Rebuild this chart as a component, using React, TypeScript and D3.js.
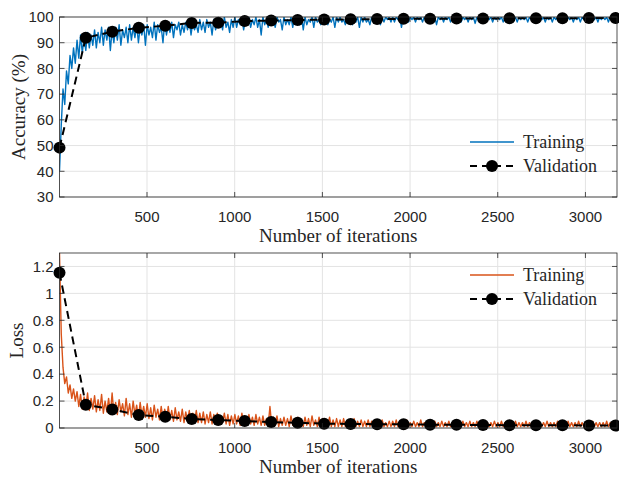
import * as d3 from "d3";

// iterations of the validation checks
const valIter = [1, 151, 302, 453, 604, 755, 906, 1057, 1208, 1359, 1510, 1661, 1812, 1963, 2114, 2265, 2416, 2567, 2718, 2869, 3020, 3171];

const valAcc = [49.2, 91.9, 94.3, 95.8, 96.6, 97.7, 97.8, 98.4, 98.6, 98.8, 99.0, 99.1, 99.2, 99.3, 99.3, 99.4, 99.4, 99.5, 99.5, 99.5, 99.6, 99.6];
const valLoss = [1.153, 0.173, 0.138, 0.096, 0.084, 0.067, 0.059, 0.052, 0.044, 0.039, 0.032, 0.03, 0.028, 0.027, 0.025, 0.024, 0.022, 0.021, 0.02, 0.02, 0.019, 0.018];

// training readings, one every 10 iterations starting at iteration 1
const trainStep = 10;
const trainAcc = [
  40, 58, 72, 66, 79, 74, 85, 80, 88, 82,
  91, 84, 93, 86, 92, 87, 94, 88, 93, 89,
  95, 88, 94, 90, 96, 89, 95, 91, 96, 87,
  95, 90, 96, 91, 97, 89, 95, 92, 96, 90,
  97, 91, 96, 92, 97, 90, 96, 93, 97, 89,
  97, 93, 96, 92, 98, 91, 97, 94, 96, 90,
  98, 93, 97, 94, 98, 92, 97, 95, 98, 93,
  97, 94, 98, 95, 99, 93, 98, 95, 97, 94,
  99, 95, 98, 94, 99, 96, 98, 93, 99, 95,
  98, 96, 99, 95, 100, 96, 98, 94, 99, 96,
  100, 96, 99, 97, 100, 95, 99, 97, 100, 96,
  99, 97, 100, 96, 99, 93, 100, 97, 99, 96,
  100, 97, 99, 96, 100, 98, 99, 95, 100, 97,
  99, 97, 100, 96, 100, 98, 99, 97, 100, 95,
  100, 97, 99, 98, 100, 96, 100, 98, 99, 97,
  100, 98, 100, 97, 99, 98, 100, 96, 100, 98,
  100, 98, 99, 97, 100, 98, 100, 97, 99, 98,
  100, 96, 100, 98, 100, 98, 99, 97, 100, 98,
  100, 99, 100, 97, 100, 98, 100, 99, 100, 98,
  100, 98, 100, 99, 100, 96, 100, 99, 100, 98,
  100, 99, 100, 98, 100, 99, 100, 98, 100, 99,
  100, 98, 100, 99, 100, 97, 100, 99, 100, 98,
  100, 99, 100, 98, 100, 99, 100, 99, 100, 98,
  100, 99, 100, 98, 100, 99, 100, 97.5, 100, 99,
  100, 98, 100, 99, 100, 99, 100, 98, 100, 99,
  100, 99, 100, 98, 100, 99, 100, 98, 100, 99,
  100, 98, 100, 99, 100, 99, 100, 98, 100, 99,
  100, 99, 100, 98, 100, 99, 100, 98, 100, 99,
  100, 98, 100, 99, 100, 98, 100, 99, 100, 99,
  100, 99, 100, 98, 100, 99, 100, 98, 100, 99,
  100, 98, 100, 99, 100, 99, 100, 98, 100, 99,
  100, 99, 100, 98, 100, 99, 100, 99, 100,
];
const trainLoss = [
  1.3, 0.7, 0.45, 0.33, 0.38, 0.26, 0.32, 0.22, 0.29, 0.2,
  0.27, 0.16, 0.25, 0.14, 0.23, 0.15, 0.26, 0.13, 0.22, 0.14,
  0.24, 0.12, 0.21, 0.13, 0.25, 0.11, 0.2, 0.12, 0.22, 0.1,
  0.26, 0.11, 0.19, 0.1, 0.21, 0.12, 0.18, 0.09, 0.22, 0.1,
  0.18, 0.08, 0.2, 0.1, 0.17, 0.07, 0.19, 0.09, 0.16, 0.08,
  0.18, 0.07, 0.15, 0.06, 0.17, 0.08, 0.14, 0.06, 0.16, 0.07,
  0.14, 0.05, 0.16, 0.06, 0.13, 0.05, 0.15, 0.06, 0.12, 0.05,
  0.14, 0.04, 0.12, 0.05, 0.13, 0.04, 0.11, 0.05, 0.13, 0.04,
  0.11, 0.04, 0.12, 0.03, 0.1, 0.04, 0.12, 0.03, 0.1, 0.04,
  0.11, 0.03, 0.09, 0.04, 0.11, 0.03, 0.1, 0.02, 0.09, 0.03,
  0.1, 0.03, 0.09, 0.02, 0.11, 0.03, 0.08, 0.02, 0.1, 0.03,
  0.08, 0.02, 0.1, 0.03, 0.08, 0.02, 0.09, 0.02, 0.07, 0.02,
  0.16, 0.02, 0.08, 0.02, 0.09, 0.01, 0.07, 0.02, 0.08, 0.02,
  0.07, 0.01, 0.09, 0.02, 0.07, 0.01, 0.08, 0.02, 0.06, 0.01,
  0.08, 0.02, 0.07, 0.01, 0.09, 0.02, 0.06, 0.01, 0.08, 0.01,
  0.07, 0.01, 0.06, 0.02, 0.08, 0.01, 0.06, 0.01, 0.07, 0.01,
  0.06, 0.01, 0.07, 0.01, 0.05, 0.02, 0.06, 0.01, 0.07, 0.01,
  0.05, 0.01, 0.06, 0.01, 0.05, 0.01, 0.06, 0.01, 0.05, 0.01,
  0.06, 0.01, 0.05, 0.01, 0.06, 0.01, 0.04, 0.01, 0.05, 0.01,
  0.05, 0.01, 0.06, 0.01, 0.04, 0.01, 0.05, 0.01, 0.06, 0.01,
  0.04, 0.01, 0.05, 0.01, 0.04, 0.01, 0.06, 0.01, 0.04, 0.01,
  0.05, 0.01, 0.04, 0.01, 0.05, 0.01, 0.04, 0.01, 0.05, 0.01,
  0.04, 0.01, 0.05, 0.01, 0.04, 0.01, 0.05, 0.01, 0.04, 0.01,
  0.05, 0.01, 0.04, 0.01, 0.05, 0.01, 0.04, 0.01, 0.05, 0.01,
  0.04, 0.01, 0.05, 0.01, 0.04, 0.01, 0.04, 0.01, 0.05, 0.01,
  0.04, 0.01, 0.05, 0.01, 0.04, 0.01, 0.05, 0.01, 0.04, 0.01,
  0.05, 0.01, 0.04, 0.01, 0.04, 0.01, 0.05, 0.01, 0.04, 0.01,
  0.04, 0.01, 0.05, 0.01, 0.04, 0.01, 0.04, 0.01, 0.05, 0.01,
  0.04, 0.01, 0.04, 0.01, 0.05, 0.01, 0.04, 0.01, 0.04, 0.01,
  0.05, 0.01, 0.04, 0.01, 0.04, 0.01, 0.05, 0.01, 0.04, 0.01,
  0.04, 0.01, 0.04, 0.01, 0.05, 0.01, 0.04, 0.01, 0.04, 0.01,
  0.04, 0.01, 0.05, 0.01, 0.04, 0.01, 0.04, 0.01, 0.04,
];

const xTicks = [500, 1000, 1500, 2000, 2500, 3000];
const accTicks = [30, 40, 50, 60, 70, 80, 90, 100];
const lossTicks = [0, 0.2, 0.4, 0.6, 0.8, 1, 1.2];
const lossTickLabels = ["0", "0.2", "0.4", "0.6", "0.8", "1", "1.2"];

const AXIS = "#262626";
const GRID = "#e3e3e3";
const SANS = "'Liberation Sans', Arial, sans-serif";
const SERIF = "'Liberation Serif', 'Times New Roman', serif";

type PanelProps = {
  id: string;
  top: number;
  bottom: number;
  yDomain: [number, number];
  yTicks: number[];
  yLabels: string[];
  yTitle: string;
  titleX: number;
  train: number[];
  val: number[];
  color: string;
  legendY: number;
};

function Panel(p: PanelProps) {
  const left = 59.5;
  const right = 617;
  const x = d3.scaleLinear().domain([1, 3180]).range([left, right]);
  const y = d3.scaleLinear().domain(p.yDomain).range([p.bottom, p.top]);

  const trainLine = d3
    .line<number>()
    .x((_, i) => x(i * trainStep + 1))
    .y((d) => y(d));
  const valLine = d3
    .line<number>()
    .x((_, i) => x(valIter[i]))
    .y((d) => y(d));

  const tick = 5;

  return (
    <g>
      <defs>
        <clipPath id={p.id}>
          <rect x={left} y={p.top} width={right - left} height={p.bottom - p.top} />
        </clipPath>
      </defs>
      {/* grid */}
      {xTicks.map((t) => (
        <line key={"gx" + t} x1={x(t)} x2={x(t)} y1={p.top} y2={p.bottom} stroke={GRID} strokeWidth={1} />
      ))}
      {p.yTicks.map((t) => (
        <line key={"gy" + t} x1={left} x2={right} y1={y(t)} y2={y(t)} stroke={GRID} strokeWidth={1} />
      ))}

      <g clipPath={`url(#${p.id})`}>
        <path d={trainLine(p.train) ?? ""} fill="none" stroke={p.color} strokeWidth={1.4} strokeLinejoin="round" />
        <path d={valLine(p.val) ?? ""} fill="none" stroke="#000" strokeWidth={2} strokeDasharray="8,5" />
      </g>
      {p.val.map((v, i) => (
        <circle key={"m" + i} cx={x(valIter[i])} cy={y(v)} r={6} fill="#000" />
      ))}

      {/* box and ticks */}
      <rect x={left} y={p.top} width={right - left} height={p.bottom - p.top} fill="none" stroke={AXIS} strokeWidth={0.8} />
      {xTicks.map((t) => (
        <g key={"tx" + t}>
          <line x1={x(t)} x2={x(t)} y1={p.bottom} y2={p.bottom - tick} stroke={AXIS} strokeWidth={0.8} />
          <line x1={x(t)} x2={x(t)} y1={p.top} y2={p.top + tick} stroke={AXIS} strokeWidth={0.8} />
          <text x={x(t)} y={p.bottom + 24.5} textAnchor="middle" fontFamily={SANS} fontSize={15} fill={AXIS}>
            {t}
          </text>
        </g>
      ))}
      {p.yTicks.map((t, i) => (
        <g key={"ty" + t}>
          <line x1={left} x2={left + tick} y1={y(t)} y2={y(t)} stroke={AXIS} strokeWidth={0.8} />
          <line x1={right} x2={right - tick} y1={y(t)} y2={y(t)} stroke={AXIS} strokeWidth={0.8} />
          <text x={left - 6} y={y(t) + 5.3} textAnchor="end" fontFamily={SANS} fontSize={15} fill={AXIS}>
            {p.yLabels[i]}
          </text>
        </g>
      ))}

      <text x={(left + right) / 2} y={p.bottom + 45} textAnchor="middle" fontFamily={SERIF} fontSize={19} fill={AXIS}>
        Number of iterations
      </text>
      <text
        transform={`translate(${p.titleX},${(p.top + p.bottom) / 2}) rotate(-90)`}
        textAnchor="middle"
        fontFamily={SERIF}
        fontSize={19}
        fill={AXIS}
      >
        {p.yTitle}
      </text>

      {/* legend */}
      <line x1={470} x2={514} y1={p.legendY} y2={p.legendY} stroke={p.color} strokeWidth={1.5} />
      <text x={523} y={p.legendY + 6} fontFamily={SERIF} fontSize={18} fill={AXIS}>
        Training
      </text>
      <line x1={470} x2={514} y1={p.legendY + 24} y2={p.legendY + 24} stroke="#000" strokeWidth={2} strokeDasharray="7,5" />
      <circle cx={492} cy={p.legendY + 24} r={6} fill="#000" />
      <text x={523} y={p.legendY + 30} fontFamily={SERIF} fontSize={18} fill={AXIS}>
        Validation
      </text>
    </g>
  );
}

export default function App() {
  return (
    <svg width={619} height={477} style={{ position: "absolute", left: 0, top: 0, background: "#fff" }}>
      <Panel
        id="clipAcc"
        top={17}
        bottom={197}
        yDomain={[30, 100]}
        yTicks={accTicks}
        yLabels={accTicks.map(String)}
        yTitle="Accuracy (%)"
        titleX={25}
        train={trainAcc}
        val={valAcc}
        color="#0072BD"
        legendY={142}
      />
      <Panel
        id="clipLoss"
        top={253}
        bottom={428}
        yDomain={[0, 1.3]}
        yTicks={lossTicks}
        yLabels={lossTickLabels}
        yTitle="Loss"
        titleX={23}
        train={trainLoss}
        val={valLoss}
        color="#D95319"
        legendY={275}
      />
    </svg>
  );
}
